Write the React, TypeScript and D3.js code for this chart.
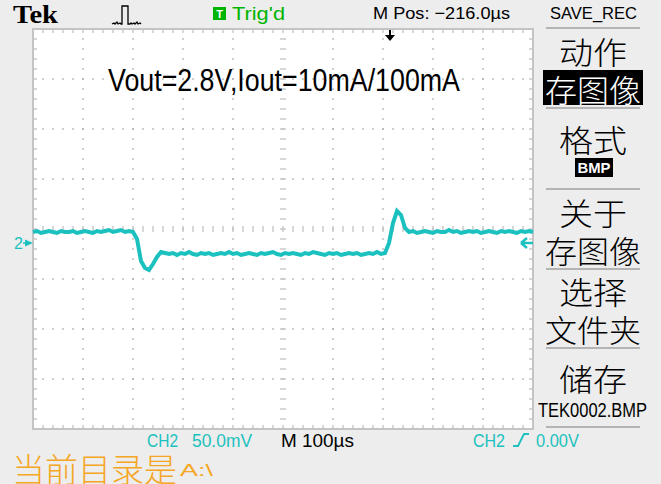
import React from "react";
import * as d3 from "d3";

// ---- Data ----
// Time axis: 10 divisions x 100 µs; vertical: 8 divisions x 50 mV (CH2)
const timeDomainUs = [0, 1000];
const voltDomainMv = [-200, 200];
const sampleStepUs = 8;
// CH2 trace samples (mV relative to screen centre), one every 8 µs
const ch2Trace = [
  -3, -2, -4, -3, -2, -3, -4, -2, -3, -3, -2, -4, -3, -2, -3, -4, -2, -3, -2, -1, -3, -2, -1, -3, -2, -3,
  -10, -32, -39, -41, -35, -28, -23, -24,
  -25, -24, -26, -24, -25, -23, -25, -26, -24, -25,
  -24, -26, -25, -24, -25, -23, -25, -24, -26, -25,
  -24, -25, -26, -24, -25, -24, -23, -25, -26, -24,
  -25, -24, -25, -26, -24, -25, -23, -24, -25, -26,
  -24, -25, -24, -26, -25, -24, -25, -24, -26, -25,
  -24, -25, -23, -25, -24,
  -14, 6, 18, 14, 1, -3,
  -2, -4, -3, -2, -3, -4, -2, -3, -3, -1,
  -3, -2, -4, -3, -2, -3, -2, -4, -3, -2,
  -3, -4, -2, -3, -2, -3, -4, -2, -3, -2,
  -3,
];
const groundLevelMv = -14;
const triggerPosUs = 714;

const annotation = "Vout=2.8V,Iout=10mA/100mA";
const topLabels = { tek: "Tek", trig: "Trig'd", mpos: "M Pos: \u2212216.0\u00b5s", save: "SAVE_REC" };
const menuLabels = ["动作", "存图像", "格式", "BMP", "关于", "存图像", "选择", "文件夹", "储存", "TEK0002.BMP"];
const bottomLabels = { ch: "CH2", scale: "50.0mV", time: "M 100\u00b5s", trigCh: "CH2", trigLevel: "0.00V" };
const dirLabel = "当前目录是";
const dirPath = "A:\\";

const W = 661;
const H = 484;
const P = { left: 33, right: 533, top: 29, bottom: 429 };
const CYAN = "#1BC1BE";
const GRAY_BG = "#EDEDED";
const GRID = "#ABABAB";
const CJK = "'Noto Sans CJK SC', 'Noto Sans', sans-serif";
const SANS = "'Liberation Sans', Arial, sans-serif";

export default function App() {
  const x = d3.scaleLinear().domain(timeDomainUs).range([P.left, P.right]);
  const y = d3.scaleLinear().domain(voltDomainMv).range([P.bottom, P.top]);

  const line = d3
    .line<number>()
    .x((_, i) => x(i * sampleStepUs))
    .y((d) => y(d));

  const divX = d3.range(0, 1001, 100);
  const divY = d3.range(-200, 201, 50);
  const minorX = d3.range(0, 1001, 20);
  const minorY = d3.range(-200, 201, 10);

  const dots: React.ReactElement[] = [];
  divX.slice(1, -1).forEach((t) => {
    if (t === 500) return;
    minorY.forEach((v) => {
      dots.push(<rect key={`v${t}_${v}`} x={x(t) - 0.75} y={y(v) - 0.75} width={1.5} height={1.5} fill={GRID} />);
    });
  });
  divY.slice(1, -1).forEach((v) => {
    if (v === 0) return;
    minorX.forEach((t) => {
      dots.push(<rect key={`h${v}_${t}`} x={x(t) - 0.75} y={y(v) - 0.75} width={1.5} height={1.5} fill={GRID} />);
    });
  });

  const ticks: React.ReactElement[] = [];
  minorX.forEach((t) => {
    const xx = x(t);
    ticks.push(<line key={`tt${t}`} x1={xx} x2={xx} y1={P.top} y2={P.top + 4} stroke="#BDBDBD" strokeWidth={1.2} />);
    ticks.push(<line key={`tb${t}`} x1={xx} x2={xx} y1={P.bottom - 4} y2={P.bottom} stroke="#BDBDBD" strokeWidth={1.2} />);
    ticks.push(<line key={`tc${t}`} x1={xx} x2={xx} y1={y(0) - 3} y2={y(0) + 3} stroke="#BDBDBD" strokeWidth={1.2} />);
  });
  minorY.forEach((v) => {
    const yy = y(v);
    ticks.push(<line key={`tl${v}`} x1={P.left} x2={P.left + 4} y1={yy} y2={yy} stroke="#BDBDBD" strokeWidth={1.2} />);
    ticks.push(<line key={`tr${v}`} x1={P.right - 4} x2={P.right} y1={yy} y2={yy} stroke="#BDBDBD" strokeWidth={1.2} />);
    ticks.push(<line key={`tm${v}`} x1={x(500) - 3} x2={x(500) + 3} y1={yy} y2={yy} stroke="#BDBDBD" strokeWidth={1.2} />);
  });

  const gy = y(groundLevelMv);
  const tx = x(triggerPosUs);
  const menuCx = 593;
  const sepYs = [28, 108, 189, 269, 348, 427];
  const menuFont = 31;

  return (
    <div style={{ position: "fixed", left: 0, top: 0, width: W, height: H }}>
      <svg width={W} height={H} viewBox={`0 0 ${W} ${H}`} style={{ display: "block" }}>
        <rect x={0} y={0} width={W} height={H} fill={GRAY_BG} />
        <rect x={P.left} y={P.top} width={P.right - P.left} height={P.bottom - P.top} fill="#FFFFFF" />
        {dots}
        {ticks}
        <rect x={P.left} y={P.top} width={P.right - P.left} height={P.bottom - P.top} fill="none" stroke="#C4C4C4" strokeWidth={2} />

        <text x={108} y={91} fontFamily={SANS} fontSize={31} textLength={352} lengthAdjust="spacingAndGlyphs" fill="#000">
          {annotation}
        </text>

        <path d={line(ch2Trace) || ""} fill="none" stroke={CYAN} strokeWidth={4} strokeLinejoin="miter" />

        <text x={14} y={gy + 6} fontFamily={SANS} fontSize={16} fill={CYAN}>2</text>
        <path d={`M${P.left - 8},${gy - 3.5} L${P.left},${gy} L${P.left - 8},${gy + 3.5} Z`} fill={CYAN} />
        <line x1={P.left - 10} x2={P.left - 2} y1={gy} y2={gy} stroke={CYAN} strokeWidth={1.5} />
        <path d={`M${P.right - 12},${gy} L${P.right - 6},${gy - 5} M${P.right - 12},${gy} L${P.right - 6},${gy + 5} M${P.right - 12},${gy} L${P.right},${gy}`} stroke={CYAN} strokeWidth={2.5} fill="none" />

        <line x1={tx} x2={tx} y1={P.top + 1} y2={P.top + 10} stroke="#000" strokeWidth={2} />
        <path d={`M${tx - 5},${P.top + 6} L${tx + 5},${P.top + 6} L${tx},${P.top + 12} Z`} fill="#000" />

        <text x={13} y={23} fontFamily="'Liberation Serif', serif" fontWeight="bold" fontSize={25} textLength={45} lengthAdjust="spacingAndGlyphs" fill="#000">
          {topLabels.tek}
        </text>
        <path
          d="M112,24 L114,23 L115,24 L117,22 L118,24 L120,23 L121,24 L122,24 L122,6 L128,6 L128,24 L130,24 L131,23 L132,24 L134,23 L135,24 L137,22 L138,24 L140,23 L141,24"
          fill="none"
          stroke="#000"
          strokeWidth={1.3}
        />
        <rect x={213} y={7} width={13} height={13} fill="#00B400" />
        <text x={219.5} y={18} textAnchor="middle" fontFamily={SANS} fontWeight="bold" fontSize={11} fill="#fff">T</text>
        <text x={232} y={20} fontFamily={SANS} fontSize={18} textLength={53} lengthAdjust="spacingAndGlyphs" fill="#00B400">
          {topLabels.trig}
        </text>
        <text x={373} y={19} fontFamily={SANS} fontSize={17} textLength={137} lengthAdjust="spacingAndGlyphs" fill="#000">
          {topLabels.mpos}
        </text>
        <text x={550} y={19} fontFamily={SANS} fontSize={17} textLength={87} lengthAdjust="spacingAndGlyphs" fill="#000">
          {topLabels.save}
        </text>

        {sepYs.map((sy) => (
          <line key={sy} x1={546} x2={640} y1={sy} y2={sy} stroke="#B4B4B4" strokeWidth={2} />
        ))}
        <text x={menuCx} y={50} textAnchor="middle" dominantBaseline="central" fontFamily={CJK} fontWeight={300} fontSize={menuFont} textLength={68} lengthAdjust="spacingAndGlyphs" fill="#000">
          {menuLabels[0]}
        </text>
        <rect x={543} y={70} width={100} height={35} fill="#000" />
        <text x={menuCx} y={88} textAnchor="middle" dominantBaseline="central" fontFamily={CJK} fontWeight={300} fontSize={menuFont} textLength={96} lengthAdjust="spacingAndGlyphs" fill="#fff">
          {menuLabels[1]}
        </text>
        <text x={menuCx} y={138} textAnchor="middle" dominantBaseline="central" fontFamily={CJK} fontWeight={300} fontSize={menuFont} textLength={68} lengthAdjust="spacingAndGlyphs" fill="#000">
          {menuLabels[2]}
        </text>
        <rect x={575} y={158} width={38} height={19} fill="#000" />
        <text x={594} y={173} textAnchor="middle" fontFamily={SANS} fontWeight="bold" fontSize={15} textLength={33} lengthAdjust="spacingAndGlyphs" fill="#fff">
          {menuLabels[3]}
        </text>
        <text x={menuCx} y={211} textAnchor="middle" dominantBaseline="central" fontFamily={CJK} fontWeight={300} fontSize={menuFont} textLength={68} lengthAdjust="spacingAndGlyphs" fill="#000">
          {menuLabels[4]}
        </text>
        <text x={menuCx} y={249} textAnchor="middle" dominantBaseline="central" fontFamily={CJK} fontWeight={300} fontSize={menuFont} textLength={96} lengthAdjust="spacingAndGlyphs" fill="#000">
          {menuLabels[5]}
        </text>
        <text x={menuCx} y={290} textAnchor="middle" dominantBaseline="central" fontFamily={CJK} fontWeight={300} fontSize={menuFont} textLength={68} lengthAdjust="spacingAndGlyphs" fill="#000">
          {menuLabels[6]}
        </text>
        <text x={menuCx} y={328} textAnchor="middle" dominantBaseline="central" fontFamily={CJK} fontWeight={300} fontSize={menuFont} textLength={96} lengthAdjust="spacingAndGlyphs" fill="#000">
          {menuLabels[7]}
        </text>
        <text x={menuCx} y={377} textAnchor="middle" dominantBaseline="central" fontFamily={CJK} fontWeight={300} fontSize={menuFont} textLength={68} lengthAdjust="spacingAndGlyphs" fill="#000">
          {menuLabels[8]}
        </text>
        <text x={538} y={417} fontFamily={SANS} fontSize={20} textLength={109} lengthAdjust="spacingAndGlyphs" fill="#000">
          {menuLabels[9]}
        </text>

        <text x={147} y={447} fontFamily={SANS} fontSize={18} textLength={31} lengthAdjust="spacingAndGlyphs" fill={CYAN}>{bottomLabels.ch}</text>
        <text x={192} y={447} fontFamily={SANS} fontSize={18} textLength={60} lengthAdjust="spacingAndGlyphs" fill={CYAN}>{bottomLabels.scale}</text>
        <text x={281} y={447} fontFamily={SANS} fontSize={18} textLength={73} lengthAdjust="spacingAndGlyphs" fill="#000">{bottomLabels.time}</text>
        <text x={473} y={447} fontFamily={SANS} fontSize={18} textLength={32} lengthAdjust="spacingAndGlyphs" fill={CYAN}>{bottomLabels.trigCh}</text>
        <path d="M513,446 L518,446 L524,434 L529,434" fill="none" stroke={CYAN} strokeWidth={1.8} />
        <text x={536} y={447} fontFamily={SANS} fontSize={18} textLength={43} lengthAdjust="spacingAndGlyphs" fill={CYAN}>{bottomLabels.trigLevel}</text>
        <text x={12} y={482} fontFamily={CJK} fontWeight={300} fontSize={33} textLength={165} lengthAdjust="spacingAndGlyphs" fill="#F5A623">
          {dirLabel}
        </text>
        <text x={180} y={476} fontFamily={SANS} fontSize={17} textLength={33} lengthAdjust="spacingAndGlyphs" fill="#F5A623">
          {dirPath}
        </text>
      </svg>
    </div>
  );
}
